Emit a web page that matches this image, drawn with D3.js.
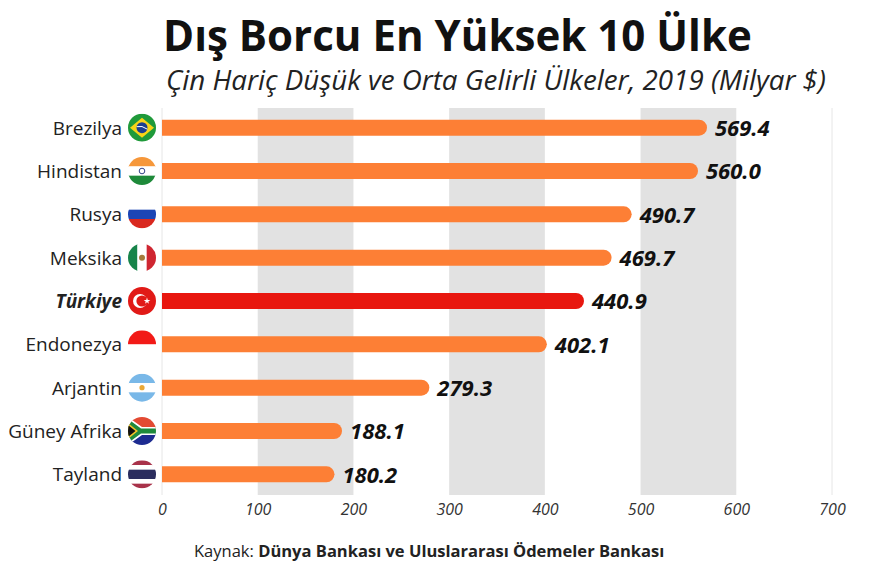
<!DOCTYPE html>
<html>
<head>
<meta charset="utf-8">
<script src="https://cdn.jsdelivr.net/npm/d3@7"></script>
<style>
  body { margin: 0; background: #fff; }
  svg { font-family: "Open Sans", "Noto Sans", sans-serif; }
</style>
</head>
<body>
<svg width="877" height="574"></svg>
<script>
// Data
const countries = ["Brezilya", "Hindistan", "Rusya", "Meksika", "Türkiye", "Endonezya", "Arjantin", "Güney Afrika", "Tayland"];
const flagCodes = ["br", "in", "ru", "mx", "tr", "id", "ar", "za", "th"];
const debt = [569.4, 560.0, 490.7, 469.7, 440.9, 402.1, 279.3, 188.1, 180.2];
const ticks = [0, 100, 200, 300, 400, 500, 600, 700];
const bands = [[100, 200], [300, 400], [500, 600]];
const highlight = "Türkiye";

const rows = countries.map((c, i) => ({ name: c, code: flagCodes[i], value: debt[i] }));

const svg = d3.select("svg");
const width = 877, height = 574;

const x = d3.scaleLinear().domain([0, 700]).range([162, 832]);
const y = d3.scaleBand().domain(countries).range([106, 496]);

// fit text to a target width
function fit(sel, w) {
    const len = sel.node().getComputedTextLength();
    const fs = parseFloat(sel.attr("font-size"));
    sel.attr("font-size", fs * w / len);
}

// Title
const title = svg.append("text")
    .attr("x", 163).attr("y", 51)
    .attr("font-size", 40).attr("font-weight", 700)
    .attr("fill", "#111")
    .text("Dış Borcu En Yüksek 10 Ülke");
fit(title, 589);

const sub = svg.append("text")
    .attr("x", 166).attr("y", 90)
    .attr("font-size", 24).attr("font-style", "italic")
    .attr("fill", "#222")
    .text("Çin Hariç Düşük ve Orta Gelirli Ülkeler, 2019 (Milyar $)");
fit(sub, 660);

// Grey background bands
svg.append("g").selectAll("rect")
    .data(bands)
    .enter().append("rect")
    .attr("x", d => x(d[0]))
    .attr("width", d => x(d[1]) - x(d[0]))
    .attr("y", 108)
    .attr("height", 387)
    .attr("fill", "#e2e2e2");

// thin lines at 0 and 700
svg.append("g").selectAll("line")
    .data([0, 700])
    .enter().append("line")
    .attr("x1", d => x(d)).attr("x2", d => x(d))
    .attr("y1", 108).attr("y2", 495)
    .attr("stroke", "#e6e6e6").attr("stroke-width", 1);

// Axis
const axis = svg.append("g")
    .attr("transform", "translate(0,496)")
    .call(d3.axisBottom(x).tickValues(ticks).tickSize(0).tickPadding(8));
axis.select(".domain").remove();
axis.selectAll("text")
    .attr("font-size", 16)
    .attr("font-style", "italic")
    .attr("fill", "#333")
    .attr("font-family", "'Open Sans', sans-serif");

// Bars (square left, rounded right)
const bh = 16;
svg.append("g").selectAll("path")
    .data(rows)
    .enter().append("path")
    .attr("fill", d => d.name === highlight ? "#e8170f" : "#fd7f35")
    .attr("d", d => {
        const x0 = x(0), x1 = x(d.value), yc = y(d.name) + y.bandwidth() / 2;
        const r = bh / 2;
        return `M${x0},${yc - r}H${x1 - r}A${r},${r} 0 0 1 ${x1 - r},${yc + r}H${x0}Z`;
    });

// Value labels
svg.append("g").selectAll("text")
    .data(rows)
    .enter().append("text")
    .attr("x", d => x(d.value) + 8)
    .attr("y", d => y(d.name) + y.bandwidth() / 2)
    .attr("dy", "0.38em")
    .attr("font-size", 22)
    .attr("font-weight", 700)
    .attr("font-style", "italic")
    .attr("fill", "#111")
    .text(d => d.value.toFixed(1));

// Country labels
svg.append("g").selectAll("text")
    .data(rows)
    .enter().append("text")
    .attr("x", 122)
    .attr("y", d => y(d.name) + y.bandwidth() / 2)
    .attr("dy", "0.36em")
    .attr("text-anchor", "end")
    .attr("font-size", 19)
    .attr("font-weight", d => d.name === highlight ? 700 : 400)
    .attr("font-style", d => d.name === highlight ? "italic" : "normal")
    .attr("fill", "#222")
    .text(d => d.name);

// Flags
const R = 14, fx = 142;
const defs = svg.append("defs");
defs.append("clipPath").attr("id", "flagclip")
    .append("circle").attr("cx", 0).attr("cy", 0).attr("r", R);

function stripesH(g, colors) {
    const h = 2 * R / colors.length;
    colors.forEach((c, i) => g.append("rect").attr("x", -R).attr("y", -R + i * h).attr("width", 2 * R).attr("height", h + 0.3).attr("fill", c));
}
function stripesV(g, colors) {
    const w = 2 * R / colors.length;
    colors.forEach((c, i) => g.append("rect").attr("x", -R + i * w).attr("y", -R).attr("width", w + 0.3).attr("height", 2 * R).attr("fill", c));
}

const drawFlag = {
    br: g => {
        g.append("rect").attr("x", -R).attr("y", -R).attr("width", 2 * R).attr("height", 2 * R).attr("fill", "#1f9a3a");
        g.append("path").attr("d", `M${-R + 2},0L0,${-R + 4}L${R - 2},0L0,${R - 4}Z`).attr("fill", "#f7d417");
        g.append("circle").attr("r", 5.5).attr("fill", "#1b3f8f");
        g.append("path").attr("d", "M-5.3,-1 Q0,-2.5 5.3,1.5").attr("stroke", "#fff").attr("stroke-width", 1).attr("fill", "none");
    },
    in: g => {
        stripesH(g, ["#f6973a", "#ffffff", "#1e8a3a"]);
        g.append("circle").attr("r", 2.8).attr("fill", "none").attr("stroke", "#1d2f7a").attr("stroke-width", 0.9);
    },
    ru: g => stripesH(g, ["#ffffff", "#1c45b5", "#d9281f"]),
    mx: g => {
        stripesV(g, ["#17844a", "#ffffff", "#cf2631"]);
        g.append("circle").attr("r", 3).attr("fill", "#a57a3c");
    },
    tr: g => {
        g.append("rect").attr("x", -R).attr("y", -R).attr("width", 2 * R).attr("height", 2 * R).attr("fill", "#e11a17");
        g.append("circle").attr("cx", -2).attr("r", 7).attr("fill", "#fff");
        g.append("circle").attr("cx", 0).attr("r", 5.6).attr("fill", "#e11a17");
        g.append("path").attr("d", d3.symbol(d3.symbolStar, 14)()).attr("transform", "translate(5,0)").attr("fill", "#fff");
    },
    id: g => stripesH(g, ["#f21a17", "#ffffff"]),
    ar: g => {
        stripesH(g, ["#79b8e8", "#ffffff", "#79b8e8"]);
        g.append("circle").attr("r", 2.6).attr("fill", "#e9a836");
    },
    za: g => {
        stripesH(g, ["#e34a33", "#1d2b91"]);
        g.append("path").attr("d", `M${-R},${-R}L0,-4H${R}V4H0L${-R},${R}Z`).attr("fill", "#fff");
        g.append("path").attr("d", `M${-R},${-R + 2}L-1,-2.5H${R}V2.5H-1L${-R},${R - 2}Z`).attr("fill", "#1f8a3d");
        g.append("path").attr("d", `M${-R},-8L-4,0L${-R},8Z`).attr("fill", "#f5c327");
        g.append("path").attr("d", `M${-R},-6L-6.5,0L${-R},6Z`).attr("fill", "#111");
    },
    th: g => {
        const s = 2 * R / 6;
        [["#a8324a", 0, 1], ["#ffffff", 1, 1], ["#2b2d5e", 2, 2], ["#ffffff", 4, 1], ["#a8324a", 5, 1]].forEach(([c, i, n]) =>
            g.append("rect").attr("x", -R).attr("y", -R + i * s).attr("width", 2 * R).attr("height", n * s + 0.3).attr("fill", c));
    }
};

const flags = svg.append("g").selectAll("g")
    .data(rows)
    .enter().append("g")
    .attr("transform", d => `translate(${fx},${y(d.name) + y.bandwidth() / 2})`);
flags.each(function(d) {
    const g = d3.select(this).append("g").attr("clip-path", "url(#flagclip)");
    drawFlag[d.code](g);
});

// Source
const src = svg.append("text")
    .attr("x", 194).attr("y", 557)
    .attr("font-size", 14)
    .attr("fill", "#222");
src.append("tspan").text("Kaynak: ");
src.append("tspan").attr("font-weight", 700).text("Dünya Bankası ve Uluslararası Ödemeler Bankası");
fit(src, 471);
</script>
</body>
</html>
